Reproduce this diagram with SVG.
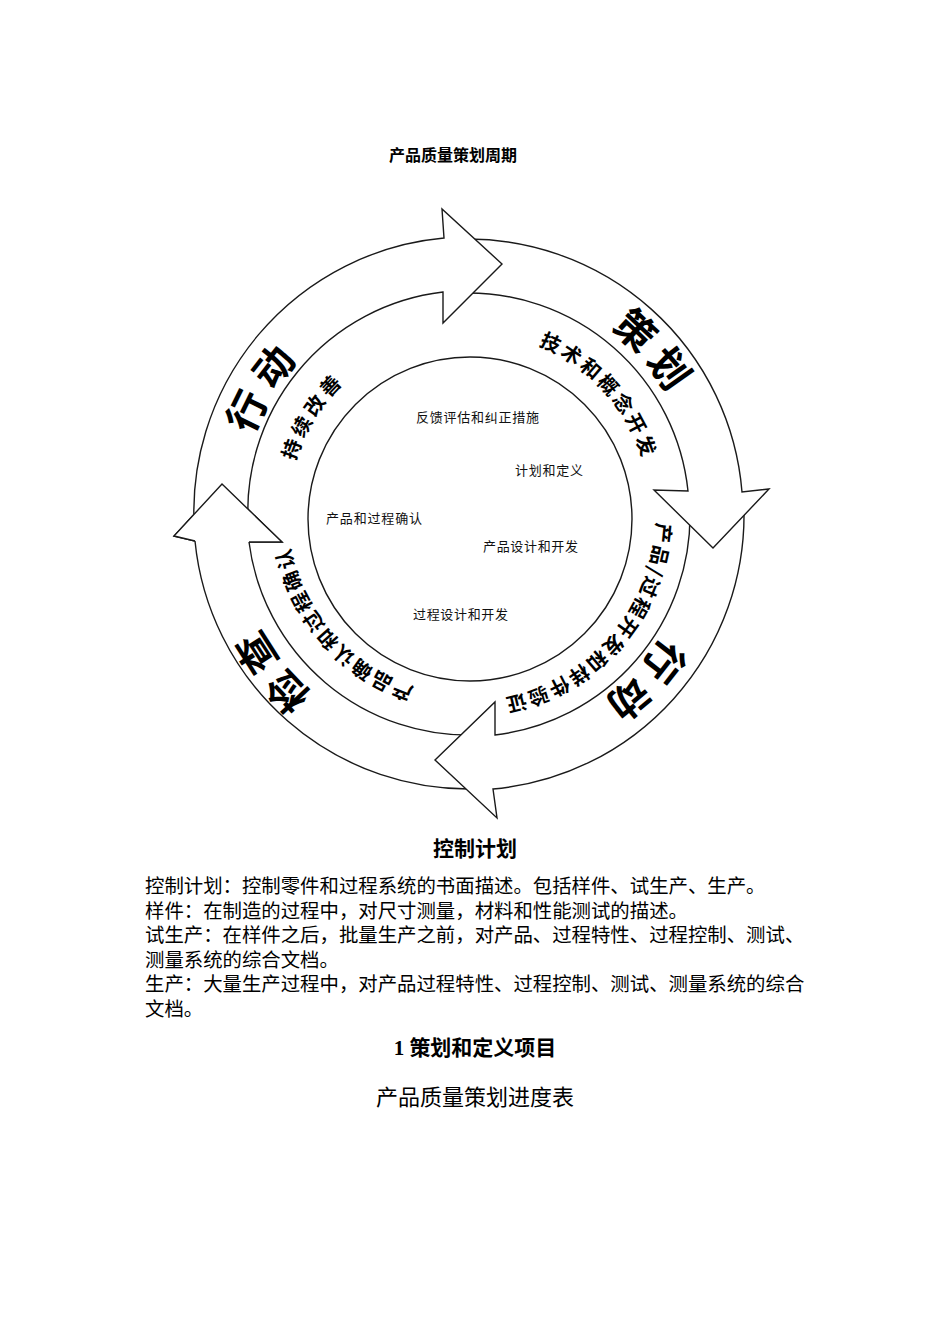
<svg xmlns="http://www.w3.org/2000/svg" width="950" height="1344" viewBox="0 0 950 1344">
<style>
.bg{fill:#fff}
.arrow{fill:#fff;stroke:#1a1a1a;stroke-width:1.4;stroke-linejoin:miter}
.ring{fill:none;stroke:#1a1a1a;stroke-width:1.4}
.big{font-family:"Noto Sans CJK SC",sans-serif;font-weight:700;font-size:40px;fill:#000}
.mid{font-family:"Noto Sans CJK SC",sans-serif;font-weight:700;font-size:20px;fill:#000}
.small{font-family:"Noto Sans CJK SC",sans-serif;font-size:13px;fill:#111}
.title{font-family:"Noto Sans CJK SC",sans-serif;font-weight:700;font-size:16px;fill:#000}
.head{font-family:"Noto Sans CJK SC",sans-serif;font-weight:700;font-size:21px;fill:#000}
.body{font-family:"Liberation Serif","Noto Sans CJK SC",serif;font-size:19.4px;fill:#000}
.h1{font-family:"Liberation Serif","Noto Sans CJK SC",serif;font-weight:700;font-size:21px;fill:#000}
.h2{font-family:"Liberation Serif","Noto Sans CJK SC",serif;font-size:22px;fill:#000}
</style>
<defs>
<path id="p-cehua" d="M 293.15 666.86 A 233 233 0 1 1 644.85 361.14 A 233 233 0 1 1 293.15 666.86"/>
<path id="p-jishu" d="M 334.30 636.99 A 182.4 182.4 0 1 1 603.70 391.01 A 182.4 182.4 0 1 1 334.30 636.99"/>
<path id="p-xd1" d="M 664.05 635.88 A 230 230 0 1 1 273.95 392.12 A 230 230 0 1 1 664.05 635.88"/>
<path id="p-chixu" d="M 622.84 610.13 A 181.4 181.4 0 1 1 315.16 417.87 A 181.4 181.4 0 1 1 622.84 610.13"/>
<path id="p-chanpin" d="M 327.49 390.99 A 187.5 187.5 0 1 1 610.51 637.01 A 187.5 187.5 0 1 1 327.49 390.99"/>
<path id="p-queren" d="M 605.28 394.28 A 181.4 181.4 0 1 1 332.72 633.72 A 181.4 181.4 0 1 1 605.28 394.28"/>
<path id="p-jiancha" d="M 657.33 366.86 A 239 239 0 1 1 280.67 661.14 A 239 239 0 1 1 657.33 366.86"/>
<path id="p-xd2" d="M 303.55 354.23 A 230 230 0 1 1 634.45 673.77 A 230 230 0 1 1 303.55 354.23"/>
</defs>
<rect class="bg" x="0" y="0" width="950" height="1344"/>

<text id="diagram-title" class="title" x="453" y="161" text-anchor="middle">产品质量策划周期</text>

<g id="connectors">
  <!-- D: left arrow (检查) -->
  <path id="arrow-check" class="arrow" d="M 478.6 788.8 A 275 275 0 0 1 195 541 L 174 536 L 222 484 L 282 542 L 249 542 A 221 221 0 0 0 476.71 734.87 Z"/>
  <!-- C: bottom arrow (行动 / 产品过程开发) -->
  <path id="arrow-do" class="arrow" d="M 743.96 509.2 A 275 275 0 0 1 493 789 L 497 818 L 435 760 L 495 702 L 495 735 A 221 221 0 0 0 689.97 510.14 Z"/>
  <!-- B: right arrow (策划) -->
  <path id="arrow-plan" class="arrow" d="M 459.4 239.2 A 275 275 0 0 1 742 492 L 769 489 L 713 548 L 654 490 L 688 491 A 221 221 0 0 0 461.3 293.1 Z"/>
  <!-- A: top-left arrow (行动 / 持续改善) -->
  <path id="arrow-act" class="arrow" d="M 194.67 533.18 A 275 275 0 0 1 444 238 L 442 209 L 502 264 L 443 323 L 443 292 A 221 221 0 0 0 248.54 529.42 Z"/>
  <!-- head of D drawn again on top -->
  <path id="arrow-check-head" class="arrow" d="M 195 541 L 174 536 L 222 484 L 282 542 L 249 542"/>
</g>

<g id="node-center">
  <circle class="ring" cx="470" cy="519" r="162"/>
  <text class="small" x="477.5" y="422" text-anchor="middle" textLength="123" lengthAdjust="spacing">反馈评估和纠正措施</text>
  <text class="small" x="549" y="475" text-anchor="middle" textLength="68" lengthAdjust="spacing">计划和定义</text>
  <text class="small" x="374" y="523" text-anchor="middle" textLength="96" lengthAdjust="spacing">产品和过程确认</text>
  <text class="small" x="530.5" y="551" text-anchor="middle" textLength="95" lengthAdjust="spacing">产品设计和开发</text>
  <text class="small" x="460.5" y="619" text-anchor="middle" textLength="95" lengthAdjust="spacing">过程设计和开发</text>
</g>

<g id="node-plan">
  <text class="big" letter-spacing="8"><textPath href="#p-cehua" startOffset="50%" text-anchor="middle">策划</textPath></text>
  <text class="mid" letter-spacing="3"><textPath href="#p-jishu" startOffset="50%" text-anchor="middle">技术和概念开发</textPath></text>
</g>
<g id="node-do">
  <text class="big" letter-spacing="8"><textPath href="#p-xd2" startOffset="50%" text-anchor="middle">行动</textPath></text>
  <text class="mid" letter-spacing="2"><textPath href="#p-chanpin" startOffset="50%" text-anchor="middle">产品/过程开发和样件验证</textPath></text>
</g>
<g id="node-check">
  <text class="big" letter-spacing="7"><textPath href="#p-jiancha" startOffset="50%" text-anchor="middle">检查</textPath></text>
  <text class="mid" letter-spacing="2"><textPath href="#p-queren" startOffset="50%" text-anchor="middle">产品确认和过程确认</textPath></text>
</g>
<g id="node-act">
  <text class="big" letter-spacing="9"><textPath href="#p-xd1" startOffset="50%" text-anchor="middle">行动</textPath></text>
  <text class="mid" letter-spacing="4"><textPath href="#p-chixu" startOffset="50%" text-anchor="middle">持续改善</textPath></text>
</g>

<g id="text-body">
  <text class="head" x="475" y="856" text-anchor="middle">控制计划</text>
  <text class="body" x="145" y="893">控制计划：控制零件和过程系统的书面描述。包括样件、试生产、生产。</text>
  <text class="body" x="145" y="917.5">样件：在制造的过程中，对尺寸测量，材料和性能测试的描述。</text>
  <text class="body" x="145" y="942">试生产：在样件之后，批量生产之前，对产品、过程特性、过程控制、测试、</text>
  <text class="body" x="145" y="966.5">测量系统的综合文档。</text>
  <text class="body" x="145" y="991">生产：大量生产过程中，对产品过程特性、过程控制、测试、测量系统的综合</text>
  <text class="body" x="145" y="1015.5">文档。</text>
  <text class="h1" x="475" y="1055" text-anchor="middle">1 策划和定义项目</text>
  <text class="h2" x="475" y="1105" text-anchor="middle">产品质量策划进度表</text>
</g>
</svg>
